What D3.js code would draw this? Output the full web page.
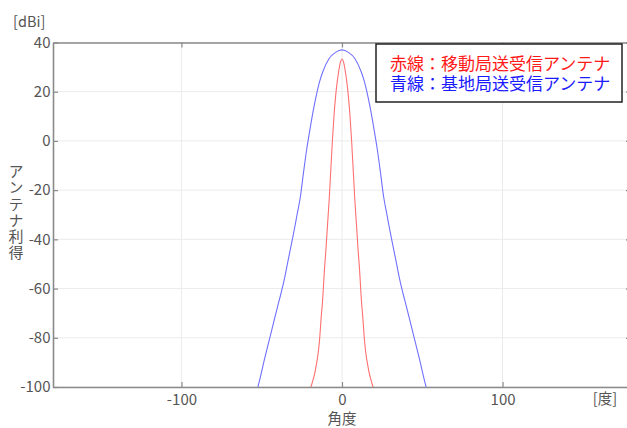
<!DOCTYPE html>
<html>
<head>
<meta charset="UTF-8">
<script src="https://d3js.org/d3.v7.min.js"></script>
<style>
  body { margin: 0; background: #fff; }
  #wrap { position: relative; width: 627px; height: 428px; overflow: hidden; }
  svg { position: absolute; left: 0; top: 0; }
  text { font-family: "Noto Sans CJK JP", "Noto Sans", sans-serif; }
  .legend { position: absolute; font-family: "Noto Sans CJK JP", sans-serif; font-size: 17px; line-height: 20px; white-space: nowrap; }
</style>
</head>
<body>
<div id="wrap"><svg id="canvas"></svg></div>
<script>
width = 627;
height = 428;

// data
xTicks = [-100, 0, 100];
yTicks = [-100, -80, -60, -40, -20, 0, 20, 40];

// blue: base station antenna
blueAngle = [-52.4, -52, -48, -44, -40, -38, -36, -34, -32, -30, -28, -26, -24, -22, -20, -18, -16, -14, -12, -8, -4, 0,
             4, 8, 12, 14, 16, 18, 20, 22, 24, 26, 28, 30, 32, 34, 36, 38, 40, 44, 48, 52, 52.4];
blueGain  = [-100, -99, -88, -77.5, -67, -62, -56.5, -50, -43.5, -37, -30, -23, -13, -3.5, 4.5, 12, 18.5, 24, 28, 33.5, 36, 37,
             36, 33.5, 28, 24, 18.5, 12, 4.5, -3.5, -13, -23, -30, -37, -43.5, -50, -56.5, -62, -67, -77.5, -88, -99, -100];

// red: mobile station antenna
redAngle = [-19.4, -19, -18, -17, -16, -15, -14, -13, -12, -11, -10, -9, -8, -7, -6, -5, -4, -3, -2, -1, 0,
            1, 2, 3, 4, 5, 6, 7, 8, 9, 10, 11, 12, 13, 14, 15, 16, 17, 18, 19, 19.4];
redGain  = [-100, -99.3, -97, -94.5, -91, -87, -81, -72, -64, -53, -44, -34, -24, -12, 0, 10, 18, 24, 28.5, 32, 33.3,
            32, 28.5, 24, 18, 10, 0, -12, -24, -34, -44, -53, -64, -72, -81, -87, -91, -94.5, -97, -99.3, -100];

legendLines = ["赤線：移動局送受信アンテナ", "青線：基地局送受信アンテナ"];
legendColors = ["#ff1a1a", "#1a1aff"];

svg = d3.select("#canvas").attr("width", width).attr("height", height);

x = d3.scaleLinear().domain([-180, 180]).range([53, 631]);
y = d3.scaleLinear().domain([-100, 40]).range([387, 42.5]);

svg.append("defs").append("clipPath").attr("id", "clip")
  .append("rect")
    .attr("x", x(-180)).attr("y", y(40))
    .attr("width", x(180) - x(-180)).attr("height", y(-100) - y(40));

// grid
svg.append("g").selectAll("line").data(xTicks).enter().append("line")
  .attr("x1", d => x(d)).attr("x2", d => x(d))
  .attr("y1", y(40)).attr("y2", y(-100))
  .attr("stroke", "#ebebeb");
svg.append("g").selectAll("line").data(yTicks).enter().append("line")
  .attr("x1", x(-180)).attr("x2", x(180))
  .attr("y1", d => y(d)).attr("y2", d => y(d))
  .attr("stroke", "#ebebeb");

// axes (ticks inward, mirrored on top / right)
axisColor = "#8a8a8a";
fmt = d => String(d);   // plain hyphen, like the original
svg.append("g").attr("transform", "translate(0," + y(-100) + ")")
  .call(d3.axisBottom(x).tickValues(xTicks).tickSizeInner(-5).tickSizeOuter(0).tickPadding(7).tickFormat(fmt));
svg.append("g").attr("transform", "translate(0," + y(40) + ")")
  .call(d3.axisTop(x).tickValues(xTicks).tickSizeInner(-5).tickSizeOuter(0).tickFormat(""));
svg.append("g").attr("transform", "translate(" + x(-180) + ",0)")
  .call(d3.axisLeft(y).tickValues(yTicks).tickSizeInner(-5).tickSizeOuter(0).tickPadding(2.5).tickFormat(fmt));
svg.append("g").attr("transform", "translate(" + x(180) + ",0)")
  .call(d3.axisRight(y).tickValues(yTicks).tickSizeInner(-5).tickSizeOuter(0).tickFormat(""));

svg.selectAll(".domain").attr("stroke", axisColor).attr("stroke-width", 1.6);
svg.selectAll(".tick line").attr("stroke", axisColor).attr("stroke-width", 1.2);
svg.selectAll(".tick text")
  .attr("fill", "#555")
  .style("font-size", "15px")
  .style("font-family", "'Noto Sans CJK JP', sans-serif");

// curves
line = d3.line().curve(d3.curveMonotoneX);
plot = svg.append("g").attr("clip-path", "url(#clip)");

plot.append("path")
  .datum(blueAngle.map((a, i) => [x(a), y(blueGain[i])]))
  .attr("d", line)
  .attr("fill", "none").attr("stroke", "#7070ff").attr("stroke-width", 1.1);

plot.append("path")
  .datum(redAngle.map((a, i) => [x(a), y(redGain[i])]))
  .attr("d", line)
  .attr("fill", "none").attr("stroke", "#ff7070").attr("stroke-width", 1.1);

// legend box
svg.append("rect")
  .attr("x", 376).attr("y", 44).attr("width", 246).attr("height", 58)
  .attr("fill", "#fff").attr("stroke", "#222").attr("stroke-width", 1.5);

// legend text as html lines so the tight line spacing keeps separate boxes
d3.select("#wrap").selectAll("div.legend").data(legendLines).enter().append("div")
  .attr("class", "legend")
  .style("left", "390px")
  .style("top", (d, i) => (53 + i * 20) + "px")
  .style("color", (d, i) => legendColors[i])
  .text(d => d);

// labels
svg.append("text").attr("x", 13).attr("y", 27)
  .attr("fill", "#555").style("font-size", "14.5px").text("[dBi]");

svg.append("text").attr("x", x(0)).attr("y", 424)
  .attr("text-anchor", "middle")
  .attr("fill", "#555").style("font-size", "14.5px").text("角度");

svg.append("text").attr("x", 605).attr("y", 404)
  .attr("text-anchor", "middle")
  .attr("fill", "#555").style("font-size", "14.5px").text("[度]");

// y title, stacked vertically
svg.append("text")
  .attr("x", 16).attr("y", 164)
  .style("writing-mode", "vertical-rl")
  .style("letter-spacing", "1.2px")
  .attr("fill", "#555").style("font-size", "15px")
  .text("アンテナ利得");
</script>
</body>
</html>
